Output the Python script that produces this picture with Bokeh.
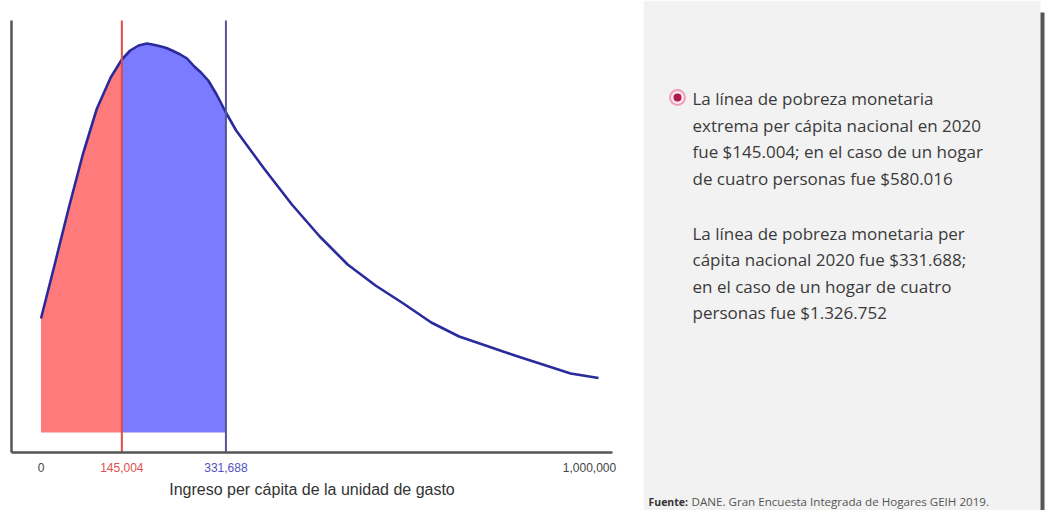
from bokeh.plotting import figure
from bokeh.models import Range1d
from bokeh.layouts import row
from bokeh.embed import file_html
from bokeh.resources import INLINE
from bokeh.core.properties import value

# ---------------- data ----------------
income = [0, 25000, 50000, 75000, 100000, 125000, 145004, 160000, 175000, 190000, 200000,
          212000, 225000, 237000, 250000, 262000, 275000, 287000, 300000, 315000, 331688,
          350000, 400000, 450000, 500000, 550000, 600000, 650000, 700000, 750000,
          800000, 850000, 900000, 950000, 1000000]
density = [1.14, 1.69, 2.25, 2.78, 3.235, 3.55, 3.73, 3.82, 3.87, 3.89, 3.88,
           3.865, 3.845, 3.815, 3.78, 3.74, 3.66, 3.60, 3.52, 3.38, 3.20,
           3.02, 2.64, 2.28, 1.96, 1.68, 1.47, 1.29, 1.10, 0.96,
           0.865, 0.77, 0.68, 0.59, 0.545]

linea_extrema = 145004
linea_pobreza = 331688
tick_values = [0, linea_extrema, linea_pobreza, 1000000]
tick_labels = ["0", "145,004", "331,688", "1,000,000"]
tick_colors = ["#444444", "#e05050", "#5252c0", "#444444"]
axis_title = "Ingreso per cápita de la unidad de gasto"

parrafo1 = ["La línea de pobreza monetaria",
            "extrema per cápita nacional en 2020",
            "fue $145.004; en el caso de un hogar",
            "de cuatro personas fue $580.016"]
parrafo2 = ["La línea de pobreza monetaria per",
            "cápita nacional 2020 fue $331.688;",
            "en el caso de un hogar de cuatro",
            "personas fue $1.326.752"]
fuente_bold = "Fuente:"
fuente_rest = "DANE. Gran Encuesta Integrada de Hogares GEIH 2019."

SANS = "Liberation Sans"

# ---------------- chart ----------------
W1, H = 643, 510
PX_PER_X = 0.0005575      # px per peso
PX_PER_Y = 100.0          # px per density unit
X0_PX, Y0_PX = 40.5, 432  # where (0, 0) sits on the canvas
x_start = -X0_PX / PX_PER_X
x_end = (W1 - X0_PX) / PX_PER_X
y_end = Y0_PX / PX_PER_Y
y_start = (Y0_PX - H) / PX_PER_Y

axis_x_left = (11 - X0_PX) / PX_PER_X
axis_x_right = (612 - X0_PX) / PX_PER_X
axis_y = -0.2
top_y = 4.12

p = figure(width=W1, height=H, output_backend="svg", toolbar_location=None,
           x_range=Range1d(x_start, x_end), y_range=Range1d(y_start, y_end),
           min_border=0)
p.grid.visible = False
p.axis.visible = False
p.outline_line_color = None
p.background_fill_color = "white"
p.border_fill_color = "white"

red_x = [x for x in income if x <= linea_extrema]
red_y = density[:len(red_x)]
i0 = income.index(linea_extrema)
blue_x = [x for x in income if linea_extrema <= x <= linea_pobreza]
blue_y = density[i0:i0 + len(blue_x)]

p.varea(x=red_x, y1=[0] * len(red_x), y2=red_y, fill_color="#ff7a7a")
p.varea(x=blue_x, y1=[0] * len(blue_x), y2=blue_y, fill_color="#7b7bff")
p.line(income, density, line_color="#2a2a9c", line_width=2.6, line_join="round")

# poverty lines
p.segment(x0=[linea_extrema], y0=[axis_y], x1=[linea_extrema], y1=[top_y],
          line_color="#e04a4a", line_width=2)
p.segment(x0=[linea_pobreza], y0=[axis_y], x1=[linea_pobreza], y1=[top_y],
          line_color="#55559a", line_width=2)

# axes lines
p.segment(x0=[axis_x_left], y0=[axis_y], x1=[axis_x_left], y1=[top_y],
          line_color="#555555", line_width=2.5)
p.segment(x0=[axis_x_left], y0=[axis_y], x1=[axis_x_right], y1=[axis_y],
          line_color="#555555", line_width=2.5)

# tick labels
p.text(x=tick_values, y=[axis_y - 0.145] * len(tick_values), text=tick_labels,
       text_color=tick_colors, text_font=value(SANS), text_font_size="12px",
       text_align="center", text_baseline="middle",
       x_offset=[0, 0, 0, -9])

# axis title
p.text(x=[(axis_x_left + axis_x_right) / 2], y=[axis_y - 0.365], text=[axis_title],
       text_color="#333333", text_font=value(SANS), text_font_size="16px",
       text_align="center", text_baseline="middle")

# ---------------- side panel ----------------
W2 = 1047 - W1
q = figure(width=W2, height=H, output_backend="svg", toolbar_location=None,
           x_range=Range1d(0, W2), y_range=Range1d(H, 0), min_border=0)
q.axis.visible = False
q.grid.visible = False
q.outline_line_color = None
q.background_fill_color = "white"
q.border_fill_color = "white"

q.quad(left=[0], right=[397], top=[0], bottom=[H], fill_color="#f2f2f2", line_color=None)
q.quad(left=[397], right=[401], top=[12], bottom=[H], fill_color="#555555", line_color=None)

q.scatter([34], [97], size=15, fill_color="#fde8ef", line_color="#ef9fbd", line_width=2)
q.scatter([34], [97], size=8, fill_color="#b01a4e", line_color=None)

lines = parrafo1 + parrafo2
ys = [98, 125, 151, 178, 233, 259, 286, 312]
q.text(x=[49] * len(lines), y=ys, text=lines, text_font=value("Open Sans"),
       text_font_size="17px", text_color="#3a3a3a", text_baseline="middle")

q.text(x=[5], y=[501], text=[fuente_bold], text_font=value("Open Sans"),
       text_font_size="10.5px", text_font_style="bold", text_color="#333333",
       text_baseline="middle")
q.text(x=[48], y=[501], text=[fuente_rest], text_font=value("Open Sans"),
       text_font_size="11.6px", text_color="#555555", text_baseline="middle")

layout = row(p, q, spacing=0)
open("out.html", "w").write(file_html(layout, INLINE))
